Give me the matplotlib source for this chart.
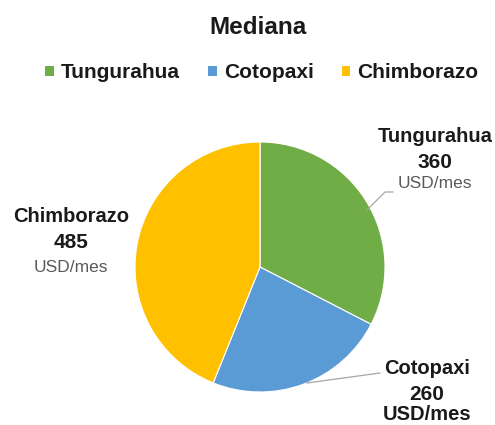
import matplotlib
matplotlib.use('Agg')
import matplotlib.pyplot as plt
from matplotlib.patches import Patch

plt.rcParams['font.family'] = ['Liberation Sans', 'DejaVu Sans']

provincias = ['Tungurahua', 'Cotopaxi', 'Chimborazo']
medianas = [360, 260, 485]
colores = ['#70AD47', '#5B9BD5', '#FFC000']
unidad = 'USD/mes'

W, H = 495, 425
fig = plt.figure(figsize=(W / 100, H / 100), dpi=100)
ax = fig.add_axes([135 / W, 33 / H, 250 / W, 250 / H])
ax.pie(medianas, colors=colores, startangle=90, counterclock=False,
       wedgeprops=dict(edgecolor='white', linewidth=0.8))
ax.set_xlim(-1, 1)
ax.set_ylim(-1, 1)
ax.set_aspect('equal')
ax.axis('off')

fig.text(258 / W, 1 - 27 / H, 'Mediana', ha='center', va='center',
         fontsize=17.5, fontweight='bold', color='#1a1a1a')

handles = [Patch(facecolor=c, edgecolor='none') for c in colores]
fig.legend(handles, provincias, loc='center', bbox_to_anchor=(262 / W, 1 - 73 / H),
           ncol=3, frameon=False, handlelength=0.4, handleheight=0.4,
           handletextpad=0.35, columnspacing=1.35, borderpad=0,
           prop=dict(size=15, weight='bold'), labelcolor='#1a1a1a')

# etiquetas de datos: posición x, y de (nombre, valor, unidad), unidad en negrita
etiquetas = {
    'Tungurahua': (1.40, (1.04, 0.832, 0.672), False),
    'Cotopaxi': (1.336, (-0.808, -1.024, -1.184), True),
    'Chimborazo': (-1.512, (0.40, 0.20, 0.0), False),
}
for nombre, valor in zip(provincias, medianas):
    x, (y_nom, y_val, y_uni), uni_bold = etiquetas[nombre]
    ax.text(x, y_nom, nombre, ha='center', va='center', fontsize=14.5,
            fontweight='bold', color='#1a1a1a', clip_on=False)
    ax.text(x, y_val, str(valor), ha='center', va='center', fontsize=15,
            fontweight='bold', color='#1a1a1a', clip_on=False)
    if uni_bold:
        ax.text(x, y_uni, unidad, ha='center', va='center', fontsize=14.5,
                fontweight='bold', color='#1a1a1a', clip_on=False)
    else:
        ax.text(x, y_uni, unidad, ha='center', va='center', fontsize=12.5,
                color='#595959', clip_on=False)

ax.plot([0.856, 1.0, 1.064], [0.456, 0.60, 0.60], color='#a6a6a6',
        lw=0.9, clip_on=False)
ax.plot([0.376, 0.96], [-0.928, -0.848], color='#a6a6a6',
        lw=0.9, clip_on=False)

fig.savefig('out.png', dpi=100)
